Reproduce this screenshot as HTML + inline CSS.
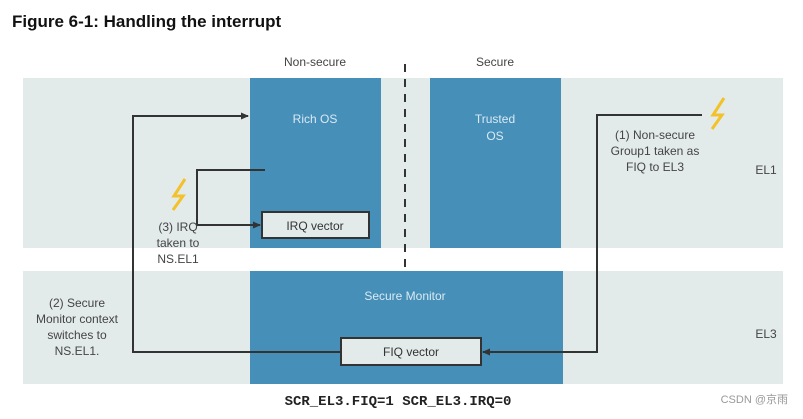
<!DOCTYPE html>
<html><head><meta charset="utf-8"><style>
body{margin:0;background:#fff;width:803px;height:414px;overflow:hidden;font-family:"Liberation Sans",sans-serif}
</style></head><body>
<svg width="803" height="414" xmlns="http://www.w3.org/2000/svg" font-family="Liberation Sans, sans-serif">
<defs><marker id="a" markerWidth="8" markerHeight="8" refX="7" refY="4" orient="auto" markerUnits="userSpaceOnUse"><path d="M0,0.5 L8,4 L0,7.5 z" fill="#333"/></marker></defs>
<text x="12" y="27" font-size="17" font-weight="bold" fill="#111">Figure 6-1: Handling the interrupt</text>
<rect x="23" y="78" width="760" height="170" fill="#e3eaea"/>
<rect x="23" y="271" width="760" height="113" fill="#e3eaea"/>
<rect x="250" y="78" width="131" height="170" fill="#458fb8"/>
<rect x="430" y="78" width="131" height="170" fill="#458fb8"/>
<rect x="250" y="271" width="313" height="113" fill="#458fb8"/>
<line x1="405" y1="64" x2="405" y2="268" stroke="#333" stroke-width="2" stroke-dasharray="8,7"/>
<text x="315" y="66" font-size="12" fill="#444" text-anchor="middle">Non-secure</text>
<text x="495" y="66" font-size="12" fill="#444" text-anchor="middle">Secure</text>
<text x="315" y="123" font-size="12" fill="#dbe9f2" text-anchor="middle">Rich OS</text>
<text x="495" y="123" font-size="12" fill="#dbe9f2" text-anchor="middle">Trusted</text>
<text x="495" y="140" font-size="12" fill="#dbe9f2" text-anchor="middle">OS</text>
<text x="405" y="300" font-size="12" fill="#dbe9f2" text-anchor="middle">Secure Monitor</text>
<rect x="262" y="212" width="107" height="26" fill="#e3eaea" stroke="#333" stroke-width="2"/>
<text x="315" y="230" font-size="12" fill="#333" text-anchor="middle">IRQ vector</text>
<rect x="341" y="338" width="140" height="27" fill="#e3eaea" stroke="#333" stroke-width="2"/>
<text x="411" y="356" font-size="12" fill="#333" text-anchor="middle">FIQ vector</text>
<polyline points="341,352 133,352 133,116 248,116" fill="none" stroke="#333" stroke-width="2" marker-end="url(#a)"/>
<polyline points="702,115 597,115 597,352 483,352" fill="none" stroke="#333" stroke-width="2" marker-end="url(#a)"/>
<polyline points="265,170 197,170 197,225 260,225" fill="none" stroke="#333" stroke-width="2" marker-end="url(#a)"/>
<path d="M185,179 L174,196 L183,196 L173,210" fill="none" stroke="#f3c12a" stroke-width="3"/>
<path d="M724,98 L713,115 L722,115 L712,129" fill="none" stroke="#f3c12a" stroke-width="3"/>
<g font-size="12" fill="#444" text-anchor="middle">
<text x="655" y="139">(1) Non-secure</text>
<text x="655" y="155">Group1 taken as</text>
<text x="655" y="171">FIQ to EL3</text>
<text x="178" y="231">(3) IRQ</text>
<text x="178" y="247">taken to</text>
<text x="178" y="263">NS.EL1</text>
<text x="77" y="307">(2) Secure</text>
<text x="77" y="323">Monitor context</text>
<text x="77" y="339">switches to</text>
<text x="77" y="355">NS.EL1.</text>
</g>
<text x="766" y="174" font-size="12" fill="#444" text-anchor="middle">EL1</text>
<text x="766" y="338" font-size="12" fill="#444" text-anchor="middle">EL3</text>
<text x="398" y="405" font-size="14" font-weight="bold" font-family="Liberation Mono, monospace" fill="#222" text-anchor="middle">SCR_EL3.FIQ=1 SCR_EL3.IRQ=0</text>
<text x="788" y="403" font-size="11" fill="#999" text-anchor="end" font-family="Liberation Sans, Noto Sans CJK SC, sans-serif">CSDN @京雨</text>
</svg>
</body></html>
